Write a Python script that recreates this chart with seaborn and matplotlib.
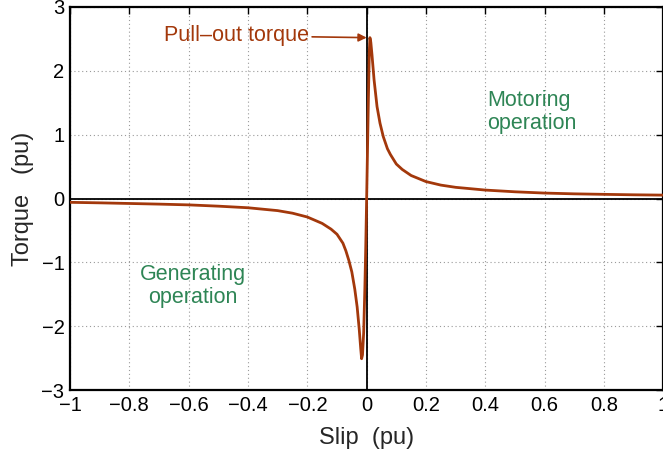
import matplotlib
matplotlib.use("Agg")
import matplotlib.pyplot as plt
import seaborn as sns
import pandas as pd

# Torque–slip characteristic
slip = [-1.0, -0.9, -0.8, -0.7, -0.6, -0.5, -0.4, -0.3, -0.25, -0.2, -0.15, -0.12,
        -0.1, -0.08, -0.07, -0.06, -0.05, -0.04, -0.032, -0.025, -0.02, -0.017,
        -0.014, -0.010, -0.006, -0.003, 0.0, 0.003, 0.006, 0.009, 0.011,
        0.014, 0.018, 0.025, 0.035, 0.045, 0.056, 0.07, 0.08, 0.1, 0.12, 0.15,
        0.2, 0.25, 0.3, 0.4, 0.5, 0.6, 0.7, 0.8, 0.9, 1.0]
torque = [-0.06, -0.068, -0.078, -0.088, -0.10, -0.12, -0.145, -0.19, -0.23, -0.29, -0.39, -0.48,
          -0.56, -0.70, -0.82, -0.97, -1.15, -1.42, -1.70, -2.05, -2.35, -2.51,
          -2.45, -2.10, -1.40, -0.75, 0.0, 0.80, 1.60, 2.30, 2.52,
          2.45, 2.25, 1.86, 1.44, 1.18, 0.97, 0.78, 0.69, 0.54, 0.455, 0.36,
          0.265, 0.21, 0.175, 0.132, 0.105, 0.085, 0.073, 0.065, 0.058, 0.053]

x_ticks = [-1, -0.8, -0.6, -0.4, -0.2, 0, 0.2, 0.4, 0.6, 0.8, 1]
x_tick_labels = ["\u22121", "\u22120.8", "\u22120.6", "\u22120.4", "\u22120.2", "0",
                 "0.2", "0.4", "0.6", "0.8", "1"]
y_ticks = [-3, -2, -1, 0, 1, 2, 3]
y_tick_labels = ["\u22123", "\u22122", "\u22121", "0", "1", "2", "3"]

curve_color = "#a3380b"
text_green = "#2e8555"

sns.set_style("white")
plt.rcParams["font.family"] = ["Liberation Sans", "DejaVu Sans"]

fig = plt.figure(figsize=(6.63, 4.59), dpi=100)
ax = fig.add_axes([70 / 663, 1 - 390 / 459, 593.3 / 663, 383 / 459])

df = pd.DataFrame({"slip": slip, "torque": torque})
ax.axhline(0, color="black", lw=1.3, zorder=1)
ax.axvline(0, color="black", lw=1.3, zorder=1)
sns.lineplot(data=df, x="slip", y="torque", ax=ax, color=curve_color, lw=2.0,
             estimator=None, sort=False, zorder=3)

ax.set_xlim(-1, 1)
ax.set_ylim(-3, 3)
ax.set_xticks(x_ticks)
ax.set_xticklabels(x_tick_labels)
ax.set_yticks(y_ticks)
ax.set_yticklabels(y_tick_labels)
ax.tick_params(direction="in", length=5, width=1, top=True, right=True,
               labelsize=14.5, pad=4, colors="black")
ax.grid(True, linestyle=(0, (1, 2.5)), color="#9a9a9a", lw=0.8)
for sp in ax.spines.values():
    sp.set_color("black")
    sp.set_linewidth(1.6)

ax.set_xlabel("Slip  (pu)", fontsize=17, labelpad=9)
ax.set_ylabel("Torque   (pu)", fontsize=17, labelpad=5)

ax.annotate("Pull\u2013out torque", xy=(0.0, 2.52), xytext=(-0.195, 2.55),
            ha="right", va="center", fontsize=15.5, color=curve_color,
            arrowprops=dict(arrowstyle="-|>", color=curve_color, lw=1.2,
                            mutation_scale=12, shrinkA=0, shrinkB=0))
ax.text(0.405, 1.36, "Motoring\noperation", ha="left", va="center",
        fontsize=15.5, color=text_green, linespacing=1.12)
ax.text(-0.585, -1.37, "Generating\noperation", ha="center", va="center",
        fontsize=15.5, color=text_green, linespacing=1.12)

fig.savefig("out.png", dpi=100)
